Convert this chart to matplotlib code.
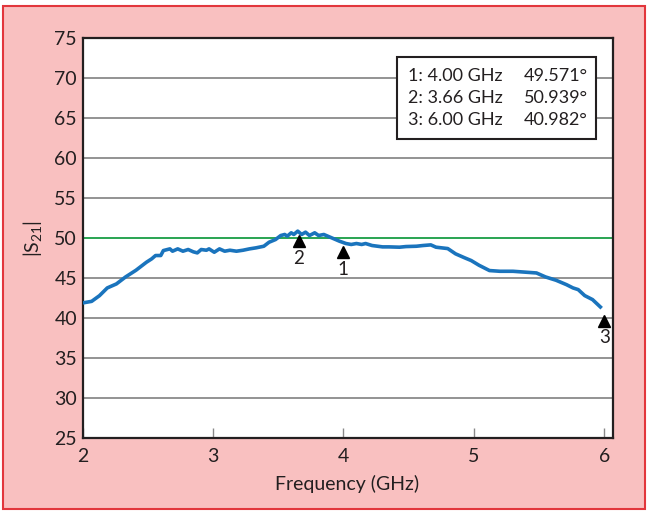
import matplotlib
matplotlib.use("Agg")
import matplotlib.pyplot as plt
import matplotlib.patches as patches
import matplotlib.transforms as mtransforms

plt.rcParams['font.family'] = ['Lato', 'DejaVu Sans']
plt.rcParams['mathtext.default'] = 'regular'

# trace (GHz, dB)
freq = [2.00, 2.07, 2.13, 2.19, 2.26, 2.33, 2.41, 2.49, 2.53, 2.56, 2.60,
        2.62, 2.67, 2.69, 2.73, 2.77, 2.81, 2.85, 2.88, 2.91, 2.95, 2.97,
        3.01, 3.05, 3.09, 3.13, 3.18, 3.23, 3.28, 3.33, 3.39, 3.43, 3.48,
        3.52, 3.55, 3.57, 3.60, 3.62, 3.65, 3.68, 3.71, 3.74, 3.78, 3.81,
        3.85, 3.91, 3.97, 4.02, 4.06, 4.10, 4.14, 4.17, 4.22, 4.30, 4.35,
        4.43, 4.48, 4.56, 4.61, 4.67, 4.71, 4.80, 4.86, 4.93, 4.98, 5.04,
        5.12, 5.20, 5.30, 5.48, 5.55, 5.63, 5.71, 5.76, 5.80, 5.85, 5.91,
        5.97]
s21 = [41.88, 42.08, 42.79, 43.76, 44.26, 45.13, 45.97, 46.97, 47.39, 47.81, 47.81,
       48.43, 48.64, 48.35, 48.64, 48.35, 48.56, 48.27, 48.14, 48.56, 48.47, 48.64,
       48.22, 48.64, 48.35, 48.47, 48.35, 48.47, 48.64, 48.77, 48.97, 49.47, 49.81,
       50.31, 50.44, 50.23, 50.65, 50.44, 50.86, 50.44, 50.73, 50.31, 50.65, 50.31,
       50.44, 50.02, 49.60, 49.31, 49.19, 49.31, 49.19, 49.31, 49.06, 48.89, 48.89,
       48.85, 48.93, 48.97, 49.06, 49.14, 48.85, 48.68, 48.02, 47.52, 47.18, 46.59,
       45.93, 45.84, 45.84, 45.63, 45.13, 44.72, 44.17, 43.76, 43.55, 42.80, 42.30,
       41.38]

marker_ids = ['1', '2', '3']
marker_freq = [4.00, 3.66, 6.00]
marker_val = [49.571, 50.939, 40.982]
ref_level = 50

x_ticks = [2, 3, 4, 5, 6]
y_ticks = [25, 30, 35, 40, 45, 50, 55, 60, 65, 70, 75]

txt = '#231f20'
fig = plt.figure(figsize=(6.51, 5.11), dpi=100, facecolor='white')
# pink panel with red frame, behind the axes
fig.patches.append(patches.Rectangle((3 / 651, 2 / 511), 642 / 651, 503 / 511,
                                     transform=fig.transFigure, facecolor='#f9c0c0',
                                     edgecolor='#e2363c', linewidth=1.5, zorder=-1))

ax = fig.add_axes([82.5 / 651, 73 / 511, 530 / 651, 400 / 511])
ax.set_facecolor('white')
ax.set_xlim(2, 6.063)
ax.set_ylim(25, 75)

for y in y_ticks[1:-1]:
    ax.axhline(y, color='#8a8a8a', linewidth=1.3, zorder=1)
ax.axhline(ref_level, color='#1aaa4a', linewidth=1.2, zorder=2)

ax.plot(freq, s21, color='#1a74bd', linewidth=2.6, zorder=3)

# markers sit just under the trace, numbers below them
tri_off = mtransforms.offset_copy(ax.transData, fig=fig, x=0, y=-7.5, units='points')
for mid, f, v in zip(marker_ids, marker_freq, marker_val):
    ax.plot(f, v, marker='^', color='black', markersize=8.5, transform=tri_off,
            zorder=4, clip_on=False)
    ax.annotate(mid, (f, v), xytext=(0, -20), textcoords='offset points',
                ha='center', va='center', fontsize=13.5, color=txt, zorder=4)

# marker readout box
box = patches.Rectangle((0.594, 0.748), 0.374, 0.205, transform=ax.transAxes,
                        facecolor='white', edgecolor='#231f20', linewidth=1.5, zorder=5)
ax.add_patch(box)
for i, (mid, f, v) in enumerate(zip(marker_ids, marker_freq, marker_val)):
    yy = 0.906 - i * 0.056
    ax.text(0.615, yy, f'{mid}: {f:.2f} GHz', transform=ax.transAxes, ha='left',
            va='center', fontsize=13, color=txt, zorder=6)
    ax.text(0.953, yy, f'{v:.3f}°', transform=ax.transAxes, ha='right',
            va='center', fontsize=13, color=txt, zorder=6)

ax.set_xticks(x_ticks)
ax.set_yticks(y_ticks)
ax.tick_params(axis='x', direction='in', length=7, width=1, color='#8a8a8a',
               pad=7, labelsize=14, labelcolor=txt)
ax.tick_params(axis='y', length=0, pad=4, labelsize=14, labelcolor=txt)
for sp in ax.spines.values():
    sp.set_color('#231f20')
    sp.set_linewidth(1.6)

ax.set_xlabel('Frequency (GHz)', fontsize=14, color=txt, labelpad=7)
ax.set_ylabel('|S$_{21}$|', fontsize=14, color=txt, labelpad=7)

fig.savefig('out.png', dpi=100, facecolor='white')
